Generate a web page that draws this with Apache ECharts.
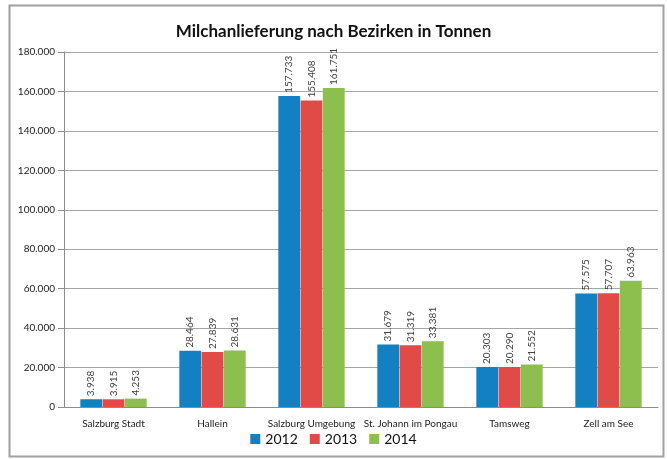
<!DOCTYPE html>
<html>
<head>
<meta charset="utf-8">
<script src="https://cdn.jsdelivr.net/npm/echarts@6/dist/echarts.min.js"></script>
<style>
html, body { margin: 0; padding: 0; background: #fff; }
#chart { width: 667px; height: 459px; }
</style>
</head>
<body>
<div id="chart"></div>
<script>
var bezirke = ['Salzburg Stadt', 'Hallein', 'Salzburg Umgebung', 'St. Johann im Pongau', 'Tamsweg', 'Zell am See'];
var jahre = ['2012', '2013', '2014'];
var werte2012 = [3938, 28464, 157733, 31679, 20303, 57575];
var werte2013 = [3915, 27839, 155408, 31319, 20290, 57707];
var werte2014 = [4253, 28631, 161751, 33381, 21552, 63963];
var farben = ['#1380c4', '#e04b48', '#8dbf4e'];

// Tausenderpunkt wie im Original
function fmt(v) {
    return String(v).replace(/\B(?=(\d{3})+(?!\d))/g, '.');
}

var chart = echarts.init(document.getElementById('chart'));

function serie(name, data, idx) {
    return {
        name: name,
        type: 'bar',
        data: data,
        barGap: '2%',
        barCategoryGap: '33%',
        itemStyle: { color: farben[idx] },
        label: {
            show: true,
            position: 'top',
            rotate: 90,
            align: 'left',
            verticalAlign: 'middle',
            distance: 3,
            fontSize: 10,
            color: '#404040',
            fontFamily: 'Lato',
            formatter: function (p) { return fmt(p.value); }
        }
    };
}

var option = {
    animation: false,
    textStyle: { fontFamily: 'Lato' },
    title: {
        text: 'Milchanlieferung nach Bezirken in Tonnen',
        left: 'center',
        top: 18,
        textStyle: { fontSize: 17, fontWeight: 'bold', color: '#111', fontFamily: 'Lato' }
    },
    graphic: [{
        type: 'rect',
        shape: { x: 9.5, y: 5.5, width: 654, height: 451 },
        style: { fill: 'none', stroke: '#a0a0a0', lineWidth: 2 },
        silent: true
    }],
    legend: {
        data: jahre,
        bottom: 8,
        left: 'center',
        icon: 'rect',
        itemWidth: 10,
        itemHeight: 10,
        itemGap: 12,
        textStyle: { fontSize: 14, color: '#111', fontFamily: 'Lato' }
    },
    grid: { left: 64, right: 9, top: 52, bottom: 52 },
    xAxis: {
        type: 'category',
        data: bezirke,
        axisLine: { lineStyle: { color: '#8c8c8c' } },
        axisTick: { length: 5, lineStyle: { color: '#8c8c8c' } },
        axisLabel: { fontSize: 10, color: '#222', margin: 12, interval: 0 }
    },
    yAxis: {
        type: 'value',
        min: 0,
        max: 180000,
        interval: 20000,
        axisLine: { show: true, lineStyle: { color: '#8c8c8c' } },
        axisTick: { show: true, length: 6, lineStyle: { color: '#8c8c8c' } },
        axisLabel: { fontSize: 10, color: '#222', margin: 9, formatter: fmt },
        splitLine: { lineStyle: { color: '#a6a6a6' } }
    },
    series: [
        serie(jahre[0], werte2012, 0),
        serie(jahre[1], werte2013, 1),
        serie(jahre[2], werte2014, 2)
    ]
};

chart.setOption(option);
</script>
</body>
</html>
